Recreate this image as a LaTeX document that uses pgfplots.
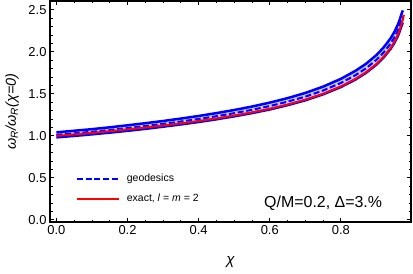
\documentclass[border=0pt]{standalone}
\usepackage{fontspec}
\setmainfont{Liberation Sans}
\usepackage{pgfplots}
\pgfplotsset{compat=1.18}
\usepackage{pgfplotstable}
\usepgfplotslibrary{fillbetween}
\definecolor{bandfill}{rgb}{0.78,0.78,1.0}
\pgfplotstableread{
x g
0.00 1.012
0.05 1.030
0.10 1.049
0.15 1.070
0.20 1.093
0.25 1.117
0.30 1.143
0.35 1.171
0.40 1.201
0.45 1.234
0.50 1.270
0.55 1.310
0.60 1.355
0.65 1.407
0.70 1.467
0.75 1.540
0.80 1.630
0.84 1.720
0.87 1.802
0.90 1.905
0.92 1.992
0.94 2.100
0.95 2.170
0.96 2.255
0.965 2.310
0.970 2.375
0.974 2.420
}\tabgeo
\pgfplotstableread{
x up
0.00 1.042
0.05 1.061
0.10 1.080
0.15 1.102
0.20 1.126
0.25 1.151
0.30 1.177
0.35 1.206
0.40 1.237
0.45 1.271
0.50 1.308
0.55 1.349
0.60 1.396
0.65 1.449
0.70 1.511
0.75 1.586
0.80 1.679
0.84 1.772
0.87 1.856
0.90 1.962
0.92 2.052
0.94 2.163
0.95 2.235
0.96 2.323
0.965 2.379
0.970 2.446
0.974 2.493
}\tabup
\pgfplotstableread{
x lo
0.00 0.982
0.05 0.999
0.10 1.018
0.15 1.038
0.20 1.060
0.25 1.083
0.30 1.109
0.35 1.136
0.40 1.165
0.45 1.197
0.50 1.232
0.55 1.271
0.60 1.314
0.65 1.365
0.70 1.423
0.75 1.494
0.80 1.581
0.84 1.668
0.87 1.748
0.90 1.848
0.92 1.932
0.94 2.037
0.95 2.105
0.96 2.187
0.965 2.241
0.970 2.304
0.974 2.347
}\tablo
\pgfplotstableread{
x r
0.00 1.000
0.05 1.017
0.10 1.035
0.15 1.055
0.20 1.077
0.25 1.099
0.30 1.123
0.35 1.149
0.40 1.177
0.45 1.208
0.50 1.242
0.55 1.280
0.60 1.323
0.65 1.373
0.70 1.431
0.75 1.501
0.80 1.589
0.84 1.676
0.87 1.756
0.90 1.856
0.92 1.941
0.94 2.046
0.95 2.116
0.96 2.201
0.965 2.256
0.970 2.321
0.974 2.385
0.977 2.440
}\tabexact
\begin{document}
\begin{tikzpicture}
\begin{axis}[
  at={(0,0)}, anchor=south west,
  scale only axis, width=361bp, height=221bp,
  xmin=-0.018, xmax=0.997, ymin=-0.025, ymax=2.605,
  xtick={0,0.2,0.4,0.6,0.8}, minor x tick num=3,
  ytick={0,0.5,1,1.5,2,2.5}, minor y tick num=4,
  tick align=inside, tick pos=both,
  major tick length=4bp, minor tick length=2.5bp,
  axis line style={line width=1.1pt},
  every tick/.style={black, line width=0.9pt},
  /pgf/number format/assume math mode=true,
  xticklabel style={/pgf/number format/fixed, /pgf/number format/fixed zerofill, /pgf/number format/precision=1},
  yticklabel style={/pgf/number format/fixed, /pgf/number format/fixed zerofill, /pgf/number format/precision=1},
  tick label style={font=\fontsize{13}{15}\selectfont},
  xlabel={\textit{χ}},
  every axis x label/.style={at={(axis description cs:0.5,-0.18)}, anchor=center, font=\fontsize{15}{17}\selectfont},
  ylabel={\textit{ω\textsubscript{R}/ω\textsubscript{R}(χ=0)}},
  every axis y label/.style={at={(axis description cs:-0.105,0.5)}, rotate=90, anchor=center, font=\fontsize{14.5}{17}\selectfont},
  legend cell align=left,
  legend style={draw=none, fill=none, at={(0.063,0.235)}, anchor=north west,
    font=\fontsize{10.5}{12}\selectfont, row sep=7bp},
  legend image code/.code={\draw[#1] (0bp,0bp) -- (42bp,0bp); \path (47bp,0bp);},
]
\addplot[name path=up, draw=none, forget plot] table[x=x,y=up] {\tabup};
\addplot[name path=lo, draw=none, forget plot] table[x=x,y=lo] {\tablo};
\addplot[fill=bandfill, draw=none, forget plot] fill between[of=up and lo];
\addplot[blue, line width=2.5pt, forget plot] table[x=x,y=up] {\tabup};
\addplot[blue, line width=2.5pt, forget plot] table[x=x,y=lo] {\tablo};
\addplot[blue, line width=2pt, dash pattern=on 6bp off 2.7bp] table[x=x,y=g] {\tabgeo};
\addlegendentry{geodesics}
\addplot[red, line width=2pt] table[x=x,y=r] {\tabexact};
\addlegendentry{exact, \textit{l} = \textit{m} = 2}
\node[anchor=center, font=\fontsize{16}{18}\selectfont] at (axis cs:0.75,0.195) {Q/M=0.2, Δ=3.\%};
\end{axis}
\pgfresetboundingbox
\path[use as bounding box] (-50bp,-52bp) rectangle (363bp,222bp);
\end{tikzpicture}
\end{document}
